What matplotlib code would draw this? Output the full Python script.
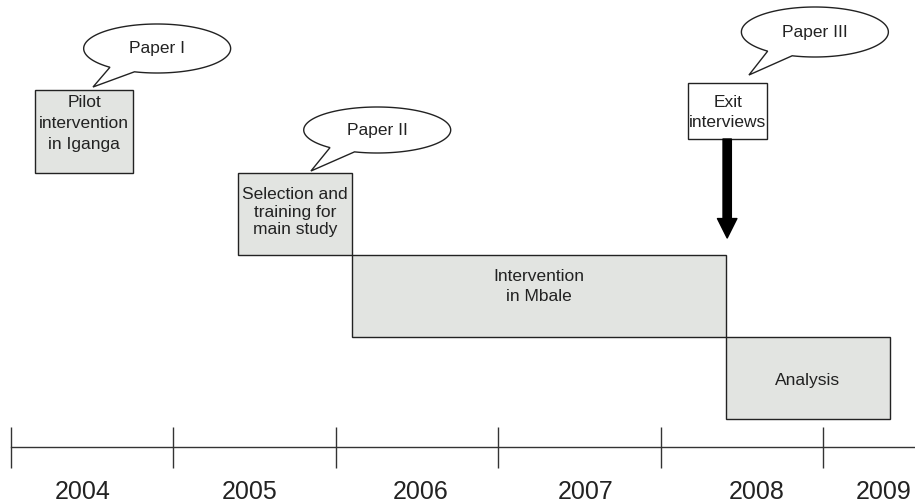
import numpy as np
import matplotlib.pyplot as plt
from matplotlib.patches import Rectangle, Polygon, FancyArrowPatch

plt.rcParams['font.family'] = ['Liberation Sans', 'DejaVu Sans']

# year ticks on the timeline (marks at year boundaries)
years = [2004, 2005, 2006, 2007, 2008, 2009]
year_labels = ['2004', '2005', '2006', '2007', '2008', '2009']
label_pos = [2004.44, 2005.47, 2006.52, 2007.54, 2008.59, 2009.375]

# study phases, start / end in fractional years
phases = ['Pilot\nintervention\nin Iganga',
          'Selection and\ntraining for\nmain study',
          'Intervention\nin Mbale',
          'Analysis']
phase_start = [2004.15, 2005.40, 2006.10, 2008.40]
phase_end = [2004.75, 2006.10, 2008.40, 2009.41]

# exit interviews
exit_label = 'Exit\ninterviews'
exit_start, exit_end = 2008.17, 2008.655
exit_time = 2008.41

# callouts for the papers
papers = ['Paper I', 'Paper II', 'Paper III']
paper_x = [2004.90, 2006.255, 2008.95]
tail_x = [2004.505, 2005.847, 2008.544]

# layout (vertical positions in pixels from the top)
phase_top = [90, 173, 255, 337]
phase_bottom = [173, 255, 337, 419]
phase_text_y = [123.5, 212, 286.5, 380]
phase_spacing = [1.5, 1.24, 1.46, 1.2]
paper_y = [48.5, 130, 32]
paper_h = [49, 46, 50]
paper_w = 0.905
tail_y = [87, 171, 75]

fill = '#e2e4e1'
edge = '#222222'
txt = '#222222'

fig = plt.figure(figsize=(9.15, 5.03), dpi=100)
ax = fig.add_axes([0, 0, 1, 1])
x0 = 2004 - 11 / 162.4
x1 = 2004 + 904 / 162.4
ax.set_xlim(x0, x1)
ax.set_ylim(503, 0)
ax.axis('off')

# phase boxes
for i in range(len(phases)):
    ax.add_patch(Rectangle((phase_start[i], phase_top[i]),
                           phase_end[i] - phase_start[i],
                           phase_bottom[i] - phase_top[i],
                           facecolor=fill, edgecolor=edge, lw=1.0))
    ax.text((phase_start[i] + phase_end[i]) / 2, phase_text_y[i], phases[i],
            ha='center', va='center', fontsize=12.5, color=txt,
            linespacing=phase_spacing[i])

# exit interviews box + arrow
ax.add_patch(Rectangle((exit_start, 83), exit_end - exit_start, 56,
                       facecolor='white', edgecolor=edge, lw=1.0))
ax.text((exit_start + exit_end) / 2, 112.5, exit_label, ha='center',
        va='center', fontsize=12.5, color=txt, linespacing=1.46)
ax.add_patch(FancyArrowPatch((exit_time, 139), (exit_time, 238),
                             arrowstyle='simple,head_width=1.4,head_length=1.4,tail_width=0.6',
                             mutation_scale=10, color='black', shrinkA=0, shrinkB=0))

# speech bubbles
t = np.radians(np.linspace(130, 468, 200))
for i in range(len(papers)):
    a = paper_w / 2
    b = paper_h[i] / 2
    pts = np.column_stack([paper_x[i] + a * np.cos(t), paper_y[i] + b * np.sin(t)])
    pts = np.vstack([pts, [tail_x[i], tail_y[i]]])
    ax.add_patch(Polygon(pts, closed=True, facecolor='white', edgecolor=edge, lw=1.0))
    ax.text(paper_x[i], paper_y[i], papers[i], ha='center', va='center',
            fontsize=12.5, color=txt)

# timeline
ax.plot([years[0], x1], [447, 447], color='#333333', lw=1.0)
ax.vlines(years, 427, 468, color='#333333', lw=1.0)
for p, lab in zip(label_pos, year_labels):
    ax.text(p, 492, lab, ha='center', va='center', fontsize=18, color=txt)

fig.savefig('out.png', dpi=100)
